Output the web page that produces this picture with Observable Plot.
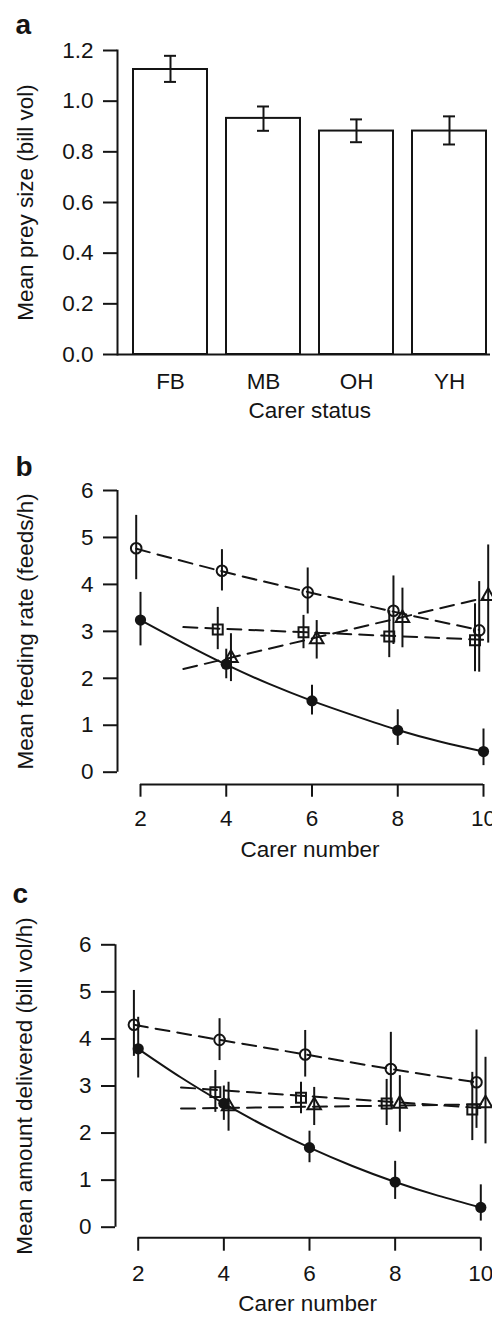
<!DOCTYPE html>
<html>
<head>
<meta charset="utf-8">
<script src="https://cdn.jsdelivr.net/npm/d3@7"></script>
<script src="https://cdn.jsdelivr.net/npm/@observablehq/plot@0.6"></script>
<style>
  html, body { margin: 0; padding: 0; background: #fff; }
  #chart { width: 492px; }
  #chart svg { display: block; }
</style>
</head>
<body>
<div id="chart"></div>
<script>
const FONT = "'Liberation Sans', Arial, Helvetica, sans-serif";
const INK = "#141414";
const FS = 22.5;

// ---------- Panel a: mean prey size by carer status ----------
const statusCategories = ["FB", "MB", "OH", "YH"];
const preySizeMean = [1.125, 0.932, 0.882, 0.882];
const preySizeLo   = [1.076, 0.883, 0.838, 0.829];
const preySizeHi   = [1.179, 0.979, 0.928, 0.940];
const preySizeTicks = [0, 0.2, 0.4, 0.6, 0.8, 1.0, 1.2];

// ---------- shared for b and c ----------
const carerTicks = [2, 4, 6, 8, 10];
const panelYTicks = [0, 1, 2, 3, 4, 5, 6];
const carersAll = [2, 4, 6, 8, 10];
const carersSub = [4, 6, 8, 10];
const fitXAll = [2, 3, 4, 5, 6, 7, 8, 9, 10];
const fitXOpen = [2, 4, 6, 8, 10];
const fitXShort = [3, 10];

// ---------- Panel b: mean feeding rate ----------
const bOpenMean = [4.77, 4.29, 3.83, 3.44, 3.02];
const bOpenLo   = [4.10, 3.86, 3.37, 2.72, 2.13];
const bOpenHi   = [5.47, 4.74, 4.35, 4.18, 4.06];
const bFilledMean = [3.24, 2.30, 1.52, 0.89, 0.44];
const bFilledLo   = [2.69, 1.99, 1.22, 0.57, 0.14];
const bFilledHi   = [3.83, 2.62, 1.85, 1.33, 0.92];
const bSquareMean = [3.04, 2.98, 2.89, 2.81];
const bSquareLo   = [2.61, 2.63, 2.44, 2.14];
const bSquareHi   = [3.51, 3.34, 3.44, 3.59];
const bTriangleMean = [2.43, 2.83, 3.28, 3.75];
const bTriangleLo   = [1.93, 2.41, 2.65, 2.75];
const bTriangleHi   = [2.95, 3.23, 3.92, 4.84];
const bOpenFit     = [4.76, 4.28, 3.84, 3.42, 3.03];
const bFilledFit   = [3.24, 2.75, 2.29, 1.88, 1.52, 1.20, 0.90, 0.65, 0.44];
const bSquareFit   = [3.09, 2.82];
const bTriangleFit = [2.20, 3.71];

// ---------- Panel c: mean amount delivered ----------
const cOpenMean = [4.30, 3.98, 3.67, 3.36, 3.08];
const cOpenLo   = [3.63, 3.54, 3.19, 2.56, 2.10];
const cOpenHi   = [5.03, 4.43, 4.18, 4.14, 4.19];
const cFilledMean = [3.79, 2.63, 1.69, 0.96, 0.42];
const cFilledLo   = [3.17, 2.27, 1.37, 0.59, 0.13];
const cFilledHi   = [4.46, 3.00, 2.04, 1.40, 0.90];
const cSquareMean = [2.87, 2.75, 2.63, 2.50];
const cSquareLo   = [2.44, 2.41, 2.16, 1.84];
const cSquareHi   = [3.33, 3.08, 3.14, 3.29];
const cTriangleMean = [2.57, 2.59, 2.62, 2.63];
const cTriangleLo   = [2.04, 2.16, 2.02, 1.77];
const cTriangleHi   = [3.08, 2.97, 3.22, 3.61];
const cOpenFit     = [4.30, 3.98, 3.67, 3.36, 3.08];
const cFilledFit   = [3.79, 3.18, 2.63, 2.13, 1.69, 1.30, 0.96, 0.67, 0.42];
const cSquareFit   = [2.97, 2.53];
const cTriangleFit = [2.52, 2.61];

// ---------- styles per series ----------
const seriesStyle = {
  open:     {symbol: "circle",   fill: "none", stroke: INK, r: 5.3, dx: -4.3, dash: "14,8", fitDx: -4.3},
  filled:   {symbol: "circle",   fill: INK,    stroke: "none", r: 5.6, dx: 0, dash: null, fitDx: 0},
  square:   {symbol: "square",   fill: "none", stroke: INK, r: 5.6, dx: -8.5, dash: "14,8", fitDx: 0},
  triangle: {symbol: "triangle", fill: "none", stroke: INK, r: 5.0, dx: 4.7, dash: "14,8", fitDx: 0}
};

function zipPoints(xs, mean, lo, hi) {
  return xs.map((x, i) => ({x, y: mean[i], lo: lo[i], hi: hi[i]}));
}
function zipFit(xs, ys) {
  return xs.map((x, i) => ({x, y: ys[i]}));
}

const panelB = {
  points: {
    open: zipPoints(carersAll, bOpenMean, bOpenLo, bOpenHi),
    filled: zipPoints(carersAll, bFilledMean, bFilledLo, bFilledHi),
    square: zipPoints(carersSub, bSquareMean, bSquareLo, bSquareHi),
    triangle: zipPoints(carersSub, bTriangleMean, bTriangleLo, bTriangleHi)
  },
  fits: {
    open: zipFit(fitXOpen, bOpenFit),
    filled: zipFit(fitXAll, bFilledFit),
    square: zipFit(fitXShort, bSquareFit),
    triangle: zipFit(fitXShort, bTriangleFit)
  }
};
const panelC = {
  points: {
    open: zipPoints(carersAll, cOpenMean, cOpenLo, cOpenHi),
    filled: zipPoints(carersAll, cFilledMean, cFilledLo, cFilledHi),
    square: zipPoints(carersSub, cSquareMean, cSquareLo, cSquareHi),
    triangle: zipPoints(carersSub, cTriangleMean, cTriangleLo, cTriangleHi)
  },
  fits: {
    open: zipFit(fitXOpen, cOpenFit),
    filled: zipFit(fitXAll, cFilledFit),
    square: zipFit(fitXShort, cSquareFit),
    triangle: zipFit(fitXShort, cTriangleFit)
  }
};

const baseStyle = {fontFamily: FONT, fontSize: FS + "px", color: INK, background: "white", overflow: "visible"};

// ---------- Panel a ----------
const rowsA = statusCategories.map((s, i) => ({status: s, mean: preySizeMean[i], lo: preySizeLo[i], hi: preySizeHi[i]}));

const chartA = Plot.plot({
  width: 492, height: 440,
  marginTop: 50, marginBottom: 86, marginLeft: 117, marginRight: 2,
  style: baseStyle,
  x: {domain: statusCategories, range: [122.6, 497.4], paddingInner: 0.2, paddingOuter: 0.1},
  y: {domain: [0, 1.2]},
  marks: [
    Plot.barY(rowsA, {x: "status", y: "mean", fill: "white", stroke: INK, strokeWidth: 2}),
    Plot.ruleX(rowsA, {x: "status", y1: "lo", y2: "hi", stroke: INK, strokeWidth: 2}),
    Plot.tickY(rowsA, {x: "status", y: "hi", insetLeft: 31, insetRight: 31, stroke: INK, strokeWidth: 2}),
    Plot.tickY(rowsA, {x: "status", y: "lo", insetLeft: 31, insetRight: 31, stroke: INK, strokeWidth: 2}),
    Plot.frame({anchor: "left", stroke: INK, strokeWidth: 2}),
    Plot.ruleY([0], {stroke: INK, strokeWidth: 2}),
    Plot.axisY({ticks: preySizeTicks, tickFormat: d3.format(".1f"), tickSize: 14, tickPadding: 10, label: null, stroke: INK, strokeWidth: 2, fill: INK, fontSize: FS}),
    Plot.axisX({tickSize: 0, tickPadding: 19, label: null, fill: INK, fontSize: FS}),
    Plot.text(["Carer status"], {text: d => d, frameAnchor: "bottom", dx: 5.8, dy: 63.3, fontSize: FS, fill: INK}),
    Plot.text(["Mean prey size (bill vol)"], {text: d => d, frameAnchor: "left", textAnchor: "middle", lineAnchor: "middle", rotate: -90, dx: -91.5, fontSize: FS, fill: INK}),
    Plot.text(["a"], {text: d => d, frameAnchor: "top-left", textAnchor: "start", lineAnchor: "bottom", dx: -102, dy: -17, fontSize: 28, fontWeight: "bold", fill: INK})
  ]
});

// ---------- line panels ----------
function linePanel(panel, cfg) {
  const marks = [
    Plot.ruleX([2], {y1: 0, y2: 6, dx: cfg.axisDx, stroke: INK, strokeWidth: 2}),
    Plot.axisY({ticks: panelYTicks, tickFormat: d3.format("d"), tickSize: 14, tickPadding: 10, dx: cfg.axisDx, label: null, stroke: INK, strokeWidth: 2, fill: INK, fontSize: FS}),
    Plot.ruleY([0], {x1: 2, x2: 10, dy: cfg.axisDy, stroke: INK, strokeWidth: 2}),
    Plot.axisX({ticks: carerTicks, tickFormat: d3.format("d"), tickSize: cfg.tickLen, tickPadding: cfg.tickPad, dy: cfg.axisDy, label: null, stroke: INK, strokeWidth: 2, fill: INK, fontSize: FS})
  ];
  for (const key of ["open", "filled", "square", "triangle"]) {
    const st = seriesStyle[key];
    marks.push(Plot.line(panel.fits[key], {x: "x", y: "y", stroke: INK, strokeWidth: 2, strokeDasharray: st.dash, curve: "natural", dx: st.fitDx}));
  }
  for (const key of ["open", "filled", "square", "triangle"]) {
    const st = seriesStyle[key];
    marks.push(Plot.ruleX(panel.points[key], {x: "x", y1: "lo", y2: "hi", stroke: INK, strokeWidth: 2, dx: st.dx}));
    marks.push(Plot.dot(panel.points[key], {x: "x", y: "y", symbol: st.symbol, r: st.r, fill: st.fill, stroke: st.stroke, strokeWidth: 2, dx: st.dx}));
  }
  marks.push(Plot.text(["Carer number"], {text: d => d, frameAnchor: "bottom", dx: cfg.titleDx, dy: cfg.titleDy, fontSize: FS, fill: INK}));
  marks.push(Plot.text([cfg.yLabel], {text: d => d, frameAnchor: "left", textAnchor: "middle", lineAnchor: "middle", rotate: -90, dx: cfg.yTitleDx, fontSize: FS, fill: INK}));
  marks.push(Plot.text([cfg.letter], {text: d => d, frameAnchor: "top-left", textAnchor: "start", lineAnchor: "bottom", dx: cfg.letterDx, dy: cfg.letterDy, fontSize: 28, fontWeight: "bold", fill: INK}));
  return Plot.plot({
    width: 492, height: cfg.height,
    marginTop: cfg.marginTop, marginBottom: cfg.marginBottom, marginLeft: cfg.marginLeft, marginRight: cfg.marginRight,
    style: baseStyle,
    x: {domain: [2, 10]},
    y: {domain: [0, 6]},
    marks
  });
}

const chartB = linePanel(panelB, {
  height: 420, marginTop: 50, marginBottom: 88.3, marginLeft: 140, marginRight: 9,
  axisDx: -23, axisDy: 12.3, tickLen: 12.7, tickPad: 13,
  titleDx: -2, titleDy: 84.3, yTitleDx: -114.5,
  yLabel: "Mean feeding rate (feeds/h)", letter: "b", letterDx: -125, letterDy: -15
});

const chartC = linePanel(panelC, {
  height: 460, marginTop: 84.3, marginBottom: 93.3, marginLeft: 137.7, marginRight: 11.7,
  axisDx: -22.7, axisDy: 10.6, tickLen: 13.4, tickPad: 14,
  titleDx: -1.8, titleDy: 83.3, yTitleDx: -113.7,
  yLabel: "Mean amount delivered (bill vol/h)", letter: "c", letterDx: -125.7, letterDy: -42.3
});

const root = document.getElementById("chart");
root.appendChild(chartA);
root.appendChild(chartB);
root.appendChild(chartC);
</script>
</body>
</html>
